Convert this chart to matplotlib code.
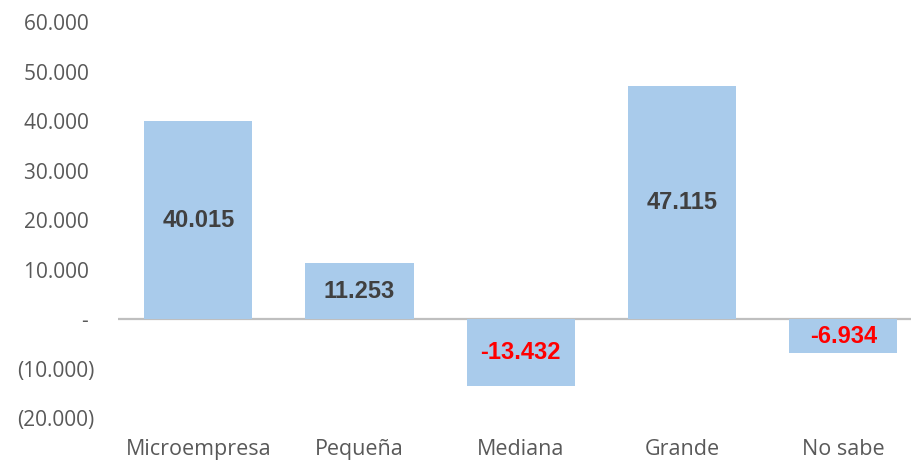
import matplotlib
matplotlib.use("Agg")
import matplotlib.pyplot as plt
from matplotlib.ticker import FuncFormatter

categories = ["Microempresa", "Pequeña", "Mediana", "Grande", "No sabe"]
values = [40015, 11253, -13432, 47115, -6934]
value_labels = ["40.015", "11.253", "-13.432", "47.115", "-6.934"]

fig = plt.figure(figsize=(9.12, 4.61), dpi=100)
ax = fig.add_axes([0.129, 0.093, 0.884, 0.859])

x = range(len(categories))
bars = ax.bar(x, values, width=0.67, color="#A9CBEB", zorder=2)

for b, v, lab in zip(bars, values, value_labels):
    ax.text(b.get_x() + b.get_width() / 2, v / 2, lab, ha="center", va="center",
            fontsize=17, fontweight="bold", family="Liberation Sans",
            color="#404040" if v >= 0 else "#FF0000", zorder=3)

ax.axhline(0, color="#BFBFBF", linewidth=1.6, zorder=1)
ax.set_xlim(-0.5, 4.5)
ax.set_ylim(-20000, 60000)
ax.set_yticks(range(-20000, 60001, 10000))

def fmt(v, pos):
    if v == 0:
        return "- "
    s = f"{abs(int(v)):,}".replace(",", ".")
    return f"({s})" if v < 0 else s + " "

ax.yaxis.set_major_formatter(FuncFormatter(fmt))
ax.set_xticks(list(x))
ax.set_xticklabels(categories)
for s in ax.spines.values():
    s.set_visible(False)
ax.tick_params(axis="both", length=0, labelsize=15, labelcolor="#595959")
ax.tick_params(axis="x", labelsize=15.5)
ax.tick_params(axis="y", pad=17)
ax.tick_params(axis="x", pad=15)
for t in ax.get_xticklabels() + ax.get_yticklabels():
    t.set_family("Open Sans")

fig.savefig("out.png", dpi=100)
